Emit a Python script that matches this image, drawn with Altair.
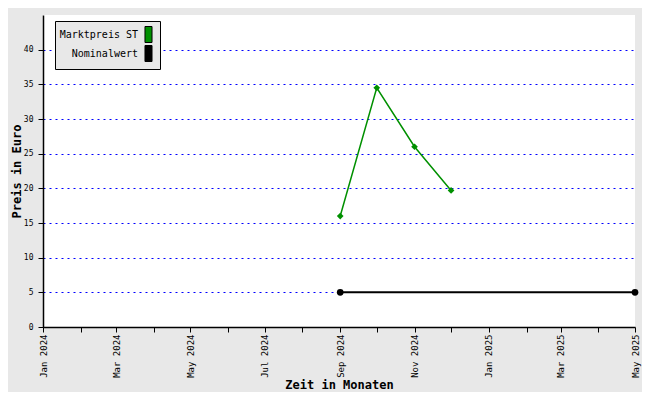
import altair as alt
import pandas as pd

# Data
markt_dates = ["2024-09-01", "2024-10-01", "2024-11-01", "2024-12-01"]
markt_values = [16.0, 34.5, 26.0, 19.7]
nominal_dates = ["2024-09-01", "2025-05-01"]
nominal_values = [5.0, 5.0]
series_names = ["Marktpreis ST", "Nominalwert"]
series_colors = ["#009000", "#000000"]
y_ticks = [0, 5, 10, 15, 20, 25, 30, 35, 40]

rows = []
for d, v in zip(markt_dates, markt_values):
    rows.append({"date": d, "value": v, "series": series_names[0], "s2": series_names[0]})
for d, v in zip(nominal_dates, nominal_values):
    rows.append({"date": d, "value": v, "series": series_names[1], "s2": series_names[1]})
df = pd.DataFrame(rows)

month_ticks = []
y, m = 2024, 1
while (y, m) <= (2025, 5):
    month_ticks.append(alt.DateTime(year=y, month=m, date=1, utc=True))
    m += 1
    if m > 12:
        m = 1
        y += 1

FONT = "DejaVu Sans Mono"

x_enc = alt.X(
    "date:T",
    scale=alt.Scale(type="utc",
                    domain=[alt.DateTime(year=2024, month=1, date=1, utc=True),
                            alt.DateTime(year=2025, month=5, date=1, utc=True)]),
    axis=alt.Axis(
        values=month_ticks,
        labelExpr="utcmonth(datum.value) % 2 == 0 ? utcFormat(datum.value, '%b %Y') : ''",
        labelAngle=-90,
        labelFontSize=9,
        labelFont=FONT,
        title="Zeit in Monaten",
        titleFont=FONT,
        titleFontSize=12,
        titleFontWeight="bold",
        titlePadding=2,
        grid=False,
        tickSize=5,
        domainColor="black",
        domainWidth=1.5,
        tickColor="black",
        labelColor="black",
        titleColor="black",
        labelOverlap=False,
    ),
)
y_enc = alt.Y(
    "value:Q",
    scale=alt.Scale(domain=[0, 45], nice=False),
    axis=alt.Axis(
        values=y_ticks,
        title="Preis in Euro",
        titleFont=FONT,
        titleFontSize=12,
        titleFontWeight="bold",
        titlePadding=0,
        labelFont=FONT,
        labelFontSize=8,
        labelPadding=5,
        grid=True,
        gridColor="#0000ff",
        gridDash=[2, 4],
        gridWidth=1,
        tickSize=5,
        domainColor="black",
        domainWidth=1.5,
        tickColor="black",
        labelColor="black",
        titleColor="black",
    ),
)

color_scale = alt.Scale(domain=series_names, range=series_colors)

lines = alt.Chart(df).mark_line().encode(
    x=x_enc,
    y=y_enc,
    stroke=alt.Stroke("s2:N", scale=color_scale, legend=None),
    strokeWidth=alt.StrokeWidth("s2:N", scale=alt.Scale(domain=series_names, range=[1.5, 2]), legend=None),
)

points = alt.Chart(df).mark_point(filled=True, size=45, opacity=1).encode(
    x=x_enc,
    y=y_enc,
    shape=alt.Shape("s2:N", scale=alt.Scale(domain=series_names, range=["diamond", "circle"]), legend=None),
    fill=alt.Fill(
        "series:N",
        scale=color_scale,
        legend=alt.Legend(
            orient="none",
            legendX=12,
            legendY=6,
            title=None,
            fillColor="#e8e8e8",
            strokeColor="black",
            padding=5,
            labelFont=FONT,
            labelFontSize=10,
            labelColor="black",
            labelAlign="right",
            labelOffset={"expr": "-19"},
            symbolOffset=80,
            symbolType="M-0.44,-1H0.44V1H-0.44Z",
            symbolSize=256,
            symbolStrokeColor="black",
            symbolStrokeWidth=1,
            symbolOpacity=1,
            rowPadding={"expr": "-4"},
        ),
    ),
)

chart = alt.layer(lines, points).resolve_scale(fill="independent", stroke="independent").properties(
    width=592,
    height=312,
    autosize=alt.AutoSizeParams(type="none"),
    padding={"left": 35, "top": 7, "right": 7, "bottom": 65},
    background="#e8e8e8",
).configure_view(fill="white", stroke=None)

chart.save("out.html", embed_options={"renderer": "svg", "actions": False})
